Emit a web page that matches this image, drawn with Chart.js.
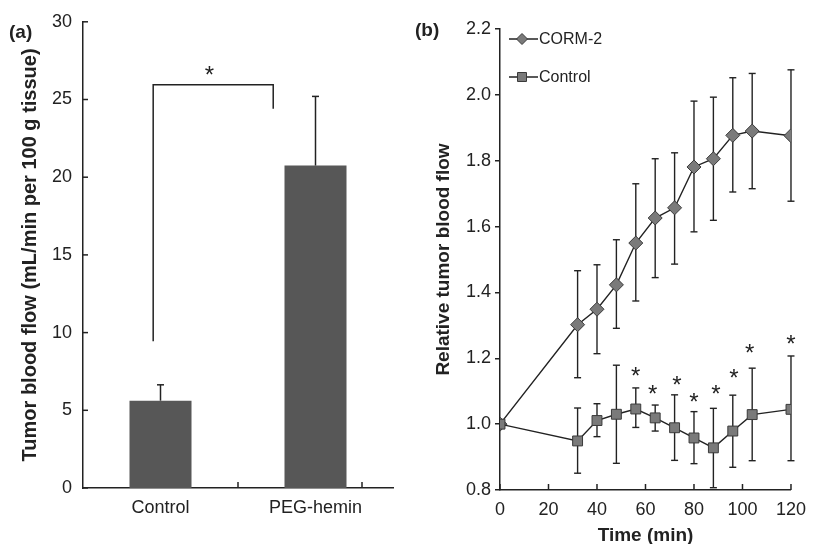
<!DOCTYPE html>
<html><head><meta charset="utf-8">
<script src="https://cdn.jsdelivr.net/npm/chart.js@4.4.1/dist/chart.umd.min.js"></script>
<style>
html,body{margin:0;padding:0;background:#fff;width:815px;height:544px;overflow:hidden}
#wa{position:absolute;left:0;top:0;width:400px;height:544px}
#wb{position:absolute;left:400px;top:0;width:415px;height:544px}
</style></head><body>
<div id="wa"><canvas id="ca"></canvas></div>
<div id="wb"><canvas id="cb"></canvas></div>
<script>
// ---------- Panel (a) data ----------
const groupsA = ['Control', 'PEG-hemin'];
const meanA = [5.62, 20.75];
const errUpA = [6.64, 25.2];
const yTicksA = [0, 5, 10, 15, 20, 25, 30];
const bracketX = [-0.184, -0.184, 0.784, 0.784];
const bracketY = [9.45, 25.95, 25.95, 24.4];
const starAX = [0.27];
const starAY = [26.7];

// ---------- Panel (b) data ----------
const timeB = [0, 32, 40, 48, 56, 64, 72, 80, 88, 96, 104, 120];
const cormMean = [1.0, 1.302, 1.349, 1.423, 1.55, 1.626, 1.657, 1.781, 1.806, 1.877, 1.89, 1.876];
const cormLow  = [null, 1.141, 1.214, 1.291, 1.374, 1.445, 1.486, 1.584, 1.619, 1.705, 1.715, 1.677];
const cormHigh = [null, 1.466, 1.484, 1.56, 1.73, 1.806, 1.824, 1.981, 1.993, 2.052, 2.065, 2.076];
const ctrlMean = [1.0, 0.949, 1.011, 1.03, 1.046, 1.019, 0.989, 0.958, 0.928, 0.979, 1.029, 1.045];
const ctrlLow  = [null, 0.851, 0.962, 0.881, 0.99, 0.979, 0.89, 0.88, 0.807, 0.869, 0.889, 0.889];
const ctrlHigh = [null, 1.049, 1.062, 1.179, 1.11, 1.058, 1.089, 1.038, 1.048, 1.088, 1.17, 1.207];
const starBX = [56, 63, 73, 80, 89, 96.5, 103, 120];
const starBY = [1.152, 1.097, 1.124, 1.073, 1.098, 1.146, 1.222, 1.248];
const xTicksB = [0, 20, 40, 60, 80, 100, 120];
const yTicksB = [0.8, 1.0, 1.2, 1.4, 1.6, 1.8, 2.0, 2.2];
const seriesNames = ['CORM-2', 'Control'];

const F = "'Liberation Sans', Arial, Helvetica, sans-serif";
const INK = '#222';
Chart.defaults.font.family = F;
Chart.defaults.color = INK;
Chart.defaults.animation = false;

function drawStar(ctx, px, py) {
  ctx.save();
  ctx.fillStyle = INK;
  ctx.font = '24px ' + F;
  ctx.textAlign = 'center';
  ctx.textBaseline = 'alphabetic';
  ctx.fillText('*', px, py + 10);
  ctx.restore();
}
function vline(ctx, x, y0, y1) { ctx.beginPath(); ctx.moveTo(x, y0); ctx.lineTo(x, y1); ctx.stroke(); }
function hline(ctx, x0, x1, y) { ctx.beginPath(); ctx.moveTo(x0, y); ctx.lineTo(x1, y); ctx.stroke(); }

// ---------- Chart (a) ----------
const plugA = {
  id: 'plugA',
  afterDraw(chart) {
    const { ctx, chartArea: ca, scales } = chart;
    const x = scales.x, x2 = scales.x2, y = scales.y;
    ctx.save();
    ctx.strokeStyle = INK; ctx.lineWidth = 1.5;
    meanA.forEach((m, i) => {
      const px = x.getPixelForValue(i);
      const y0 = y.getPixelForValue(m), y1 = y.getPixelForValue(errUpA[i]);
      vline(ctx, px, y0, y1);
      hline(ctx, px - 3.5, px + 3.5, y1);
    });
    yTicksA.forEach(v => { const py = y.getPixelForValue(v); hline(ctx, ca.left, ca.left + 5, py); });
    [0.5, 1.5].forEach(v => { const px = x2.getPixelForValue(v); vline(ctx, px, ca.bottom, ca.bottom - 6); });
    ctx.restore();
    starAX.forEach((sx, i) => drawStar(ctx, x2.getPixelForValue(sx), y.getPixelForValue(starAY[i])));
    ctx.save();
    ctx.fillStyle = INK; ctx.font = 'bold 19px ' + F; ctx.textAlign = 'left'; ctx.textBaseline = 'middle';
    ctx.fillText('(a)', 9, 33);
    ctx.restore();
  }
};

new Chart(document.getElementById('ca'), {
  type: 'bar',
  data: {
    labels: groupsA,
    datasets: [
      { label: 'Tumor blood flow', data: meanA, backgroundColor: '#575757', borderWidth: 0,
        barPercentage: 0.4, categoryPercentage: 1.0, grouped: false, order: 2 },
      { type: 'line', label: 'bracket', xAxisID: 'x2',
        data: bracketX.map((bx, i) => ({ x: bx, y: bracketY[i] })),
        borderColor: INK, borderWidth: 1.5, pointRadius: 0, fill: false, tension: 0, order: 1 }
    ]
  },
  options: {
    responsive: true, maintainAspectRatio: false,
    layout: { padding: { left: 0, top: 18, right: 7, bottom: 0 } },
    plugins: { legend: { display: false }, tooltip: { enabled: false } },
    scales: {
      x: {
        type: 'category', offset: true,
        grid: { display: false, drawTicks: false },
        border: { display: true, color: INK, width: 1.5 },
        ticks: { font: { size: 18 }, color: INK, padding: 9 },
        afterFit(s) { s.height = 56; }
      },
      x2: { type: 'linear', display: false, min: -0.5, max: 1.5 },
      y: {
        min: 0, max: 30,
        afterBuildTicks(s) { s.ticks = yTicksA.map(v => ({ value: v })); },
        grid: { display: false, drawTicks: false },
        border: { display: true, color: INK, width: 1.5 },
        ticks: { font: { size: 18 }, color: INK, padding: 11 },
        title: { display: true, text: 'Tumor blood flow (mL/min per 100 g tissue)',
                 font: { size: 20, weight: 'bold' }, color: INK, padding: { top: 18, bottom: 0 } },
        afterFit(s) { s.width = 83; }
      }
    }
  },
  plugins: [plugA]
});

// ---------- Chart (b) ----------
function diamond(ctx, x, y, r) {
  ctx.beginPath(); ctx.moveTo(x, y - r); ctx.lineTo(x + r, y); ctx.lineTo(x, y + r); ctx.lineTo(x - r, y); ctx.closePath();
  ctx.fill(); ctx.stroke();
}
function square(ctx, x, y, h) {
  ctx.beginPath(); ctx.rect(x - h, y - h, 2 * h, 2 * h); ctx.fill(); ctx.stroke();
}

const plugB = {
  id: 'plugB',
  beforeDatasetsDraw(chart) {
    const { ctx, scales } = chart;
    const x = scales.x, y = scales.y;
    ctx.save();
    ctx.strokeStyle = INK; ctx.lineWidth = 1.4;
    [[cormLow, cormHigh], [ctrlLow, ctrlHigh]].forEach(([lo, hi]) => {
      timeB.forEach((t, i) => {
        if (lo[i] == null) return;
        const px = x.getPixelForValue(t);
        const p0 = y.getPixelForValue(lo[i]), p1 = y.getPixelForValue(hi[i]);
        vline(ctx, px, p0, p1);
        hline(ctx, px - 3.5, px + 3.5, p0);
        hline(ctx, px - 3.5, px + 3.5, p1);
      });
    });
    ctx.restore();
  },
  afterDraw(chart) {
    const { ctx, chartArea: ca, scales } = chart;
    const x = scales.x, y = scales.y;
    ctx.save();
    ctx.strokeStyle = INK; ctx.lineWidth = 1.5;
    xTicksB.forEach(v => { const px = x.getPixelForValue(v); vline(ctx, px, ca.bottom, ca.bottom - 6); });
    ctx.restore();
    starBX.forEach((sx, i) => drawStar(ctx, x.getPixelForValue(sx), y.getPixelForValue(starBY[i])));
    ctx.save();
    const lx0 = ca.left + 9, lx1 = ca.left + 38, mx = ca.left + 22;
    const rows = [ca.top + 10, ca.top + 48];
    ctx.strokeStyle = INK; ctx.lineWidth = 1.5;
    rows.forEach(ry => hline(ctx, lx0, lx1, ry));
    ctx.fillStyle = '#7a7a7a'; ctx.strokeStyle = '#3a3a3a'; ctx.lineWidth = 1;
    diamond(ctx, mx, rows[0], 5.5);
    square(ctx, mx, rows[1], 4.5);
    ctx.fillStyle = INK; ctx.font = '16px ' + F; ctx.textAlign = 'left'; ctx.textBaseline = 'middle';
    ctx.fillText(seriesNames[0], lx1 + 1, rows[0] + 1);
    ctx.fillText(seriesNames[1], lx1 + 1, rows[1] + 1);
    ctx.font = 'bold 19px ' + F;
    ctx.fillText('(b)', 15, 31);
    ctx.restore();
  }
};

new Chart(document.getElementById('cb'), {
  type: 'line',
  data: {
    datasets: [
      { label: seriesNames[1], data: timeB.map((t, i) => ({ x: t, y: ctrlMean[i] })),
        borderColor: INK, borderWidth: 1.4, pointStyle: 'rect', pointRadius: 7,
        pointBackgroundColor: '#7a7a7a', pointBorderColor: '#3a3a3a', pointBorderWidth: 1, tension: 0 },
      { label: seriesNames[0], data: timeB.map((t, i) => ({ x: t, y: cormMean[i] })),
        borderColor: INK, borderWidth: 1.4, pointStyle: 'rectRot', pointRadius: 7,
        pointBackgroundColor: '#7a7a7a', pointBorderColor: '#3a3a3a', pointBorderWidth: 1, tension: 0 }
    ]
  },
  options: {
    responsive: true, maintainAspectRatio: false,
    layout: { padding: { left: 0, top: 29, right: 16, bottom: 0 } },
    plugins: { legend: { display: false }, tooltip: { enabled: false } },
    scales: {
      x: {
        type: 'linear', min: 0, max: 120,
        afterBuildTicks(s) { s.ticks = xTicksB.map(v => ({ value: v })); },
        grid: { display: false, drawTicks: false },
        border: { display: true, color: INK, width: 1.5 },
        ticks: { font: { size: 18 }, color: INK, padding: 9 },
        title: { display: true, text: 'Time (min)', font: { size: 19, weight: 'bold' }, color: INK,
                 padding: { top: 0, bottom: -3 } },
        afterFit(s) { s.height = 54; }
      },
      y: {
        type: 'linear', min: 0.8, max: 2.2,
        afterBuildTicks(s) { s.ticks = yTicksB.map(v => ({ value: v })); },
        grid: { display: true, drawOnChartArea: false, drawTicks: true, tickLength: 5, color: INK, lineWidth: 1.5 },
        border: { display: true, color: INK, width: 1.5 },
        ticks: { font: { size: 18 }, color: INK, padding: 4, callback: v => Number(v).toFixed(1) },
        title: { display: true, text: 'Relative tumor blood flow', font: { size: 19, weight: 'bold' }, color: INK,
                 padding: { top: 32, bottom: 0 } },
        afterFit(s) { s.width = 100; }
      }
    }
  },
  plugins: [plugB]
});
</script>
</body></html>
